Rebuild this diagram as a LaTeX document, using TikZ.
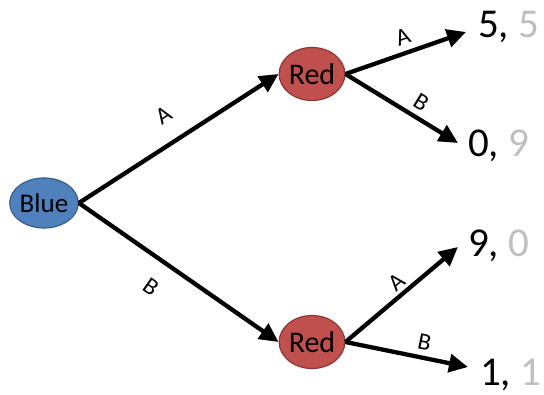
\documentclass[tikz,border=0pt]{standalone}
\usepackage{fontspec}
\setmainfont{Carlito}
\usetikzlibrary{arrows.meta,shapes.geometric}
\definecolor{bluefill}{HTML}{4F81BD}
\definecolor{blueline}{HTML}{385D8A}
\definecolor{redfill}{HTML}{C0504D}
\definecolor{redline}{HTML}{8C3836}
\definecolor{paygray}{HTML}{BFBFBF}
\tikzset{
  player/.style={ellipse, inner sep=0pt, line width=1.2pt, text=black},
  bluenode/.style={player, fill=bluefill, draw=blueline, minimum width=60pt, minimum height=50pt, font=\fontsize{27}{27}\selectfont},
  rednode/.style={player, fill=redfill, draw=redline, minimum width=60pt, minimum height=53pt, font=\fontsize{30}{30}\selectfont},
  move/.style={line width=4.3pt, -{Triangle[length=19pt,width=18pt]}},
  lbl/.style={font=\fontsize{24}{24}\selectfont, sloped, inner sep=0pt},
  payoff/.style={anchor=base west, inner sep=0pt, font=\fontsize{41}{41}\selectfont}
}
\begin{document}
\begin{tikzpicture}[x=1pt,y=1pt]
\useasboundingbox (0,0) rectangle (544,394);
\node[bluenode] (blue) at (44,191) {Blue};
\node[rednode] (redA) at (312,320) {Red};
\node[rednode] (redB) at (312,52) {Red};
\node[payoff] (p1) at (478,356) {5,\ \textcolor{paygray}{5}};
\node[payoff] (p2) at (468,237) {0,\ \textcolor{paygray}{9}};
\node[payoff] (p3) at (468,137) {9,\ \textcolor{paygray}{0}};
\node[payoff] (p4) at (480,9) {1,\ \textcolor{paygray}{1}};
\coordinate (t1) at (466,362);
\coordinate (t2) at (458,251);
\coordinate (t3) at (458,147);
\coordinate (t4) at (468,27);
\draw[move] (blue.east) -- node[lbl, pos=0.5, above=18pt] (lA1) {A} (redA.west);
\draw[move] (blue.east) -- node[lbl, pos=0.44, below=18pt] (lB1) {B} (redB.west);
\draw[move] (redA.east) -- node[lbl, pos=0.52, above=6pt] (lA2) {A} (t1);
\draw[move] (redA.east) -- node[lbl, pos=0.6, above=6pt] (lB2) {B} (t2);
\draw[move] (redB.east) -- node[lbl, pos=0.53, above=3pt] (lA3) {A} (t3);
\draw[move] (redB.east) -- node[lbl, pos=0.62, above=6pt] (lB3) {B} (t4);
\end{tikzpicture}
\end{document}
